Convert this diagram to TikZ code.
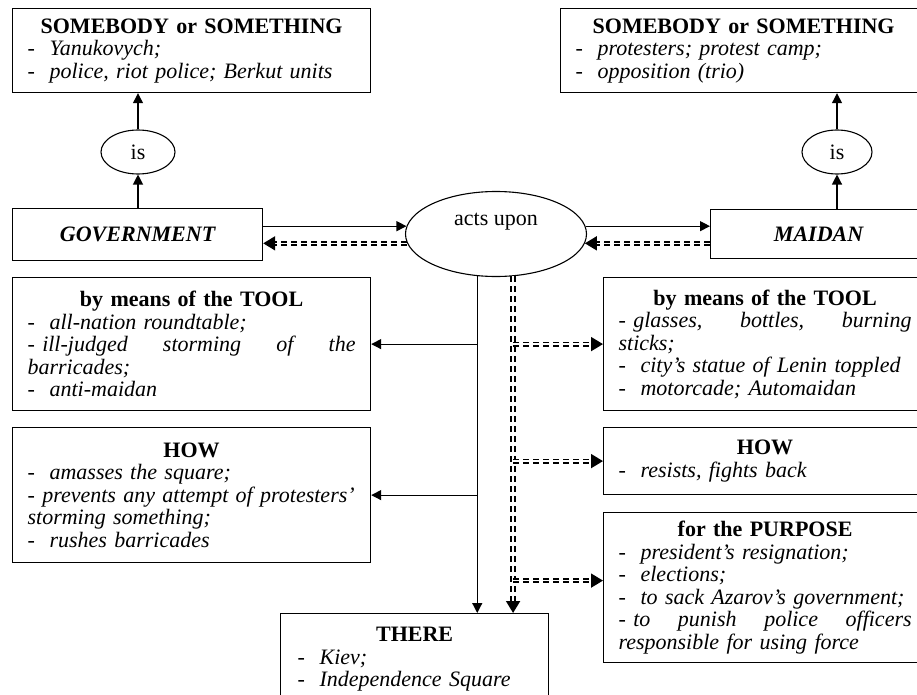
\documentclass[tikz,border=0pt]{standalone}
\usepackage{fontspec}
\setmainfont{Liberation Serif}
\usetikzlibrary{shapes.geometric,arrows.meta}
\newcommand{\hd}[1]{\makebox[\linewidth]{\bfseries #1}}

\begin{document}
\begin{tikzpicture}[x=1pt, y=-1pt, font=\fontsize{22}{22.5}\selectfont,
	box/.style={draw, line width=1.2pt, rectangle, anchor=north west, inner xsep=15pt, inner ysep=0pt, align=left},
	rel/.style={draw, line width=1.1pt, ellipse, inner sep=0pt},
	arr/.style={line width=1.2pt, -{Triangle[length=10pt,width=10pt]}},
	dbl/.style={line width=1.8pt, double distance=1.6pt, dash pattern=on 6pt off 4pt, -{Triangle[length=12pt,width=14pt]}}]
		\useasboundingbox (0,0) rectangle (917,695);
		\clip (0,0) rectangle (917,695);
		\node[box, text width=328pt, minimum height=84pt] (somL) at (12,8)
		{\hd{SOMEBODY or SOMETHING}\\ -~ \textit{Yanukovych;}\\ -~ \textit{police, riot police; Berkut units}};
		\node[box, text width=336pt, minimum height=84pt] (somR) at (560,8)
		{\hd{SOMEBODY or SOMETHING}\\ -~ \textit{protesters; protest camp;}\\ -~ \textit{opposition (trio)}};
		\node[rel, minimum width=74pt, minimum height=44pt] (isL) at (138,152) {is};
		\node[rel, minimum width=70pt, minimum height=44pt] (isR) at (837,152) {is};
		\node[box, text width=220pt, minimum height=52pt, align=center, font=\fontsize{22}{22.5}\selectfont\bfseries\itshape] (gov) at (12,208) {GOVERNMENT};
		\node[box, text width=186pt, minimum height=49pt, align=center, font=\fontsize{22}{22.5}\selectfont\bfseries\itshape] (maidan) at (710,209) {MAIDAN};
		\node[rel, minimum width=181pt, minimum height=85pt, text depth=29pt] (acts) at (496,234) {acts upon};
		\node[box, text width=328pt, minimum height=133pt] (toolL) at (12,277)
		{\hd{by means of the TOOL}\\ -~ \textit{all-nation roundtable;}\\ - \textit{ill-judged\hfill storming\hfill of\hfill the}\\ \textit{barricades;}\\ -~ \textit{anti-maidan}};
		\node[box, text width=328pt, minimum height=135pt] (howL) at (12,427)
		{\hd{HOW}\\ -~ \textit{amasses the square;}\\ \makebox[\linewidth][l]{- \textit{prevents any attempt of protesters’}}\\ \textit{storming something;}\\ -~ \textit{rushes barricades}};
		\node[box, text width=293pt, minimum height=133pt] (toolR) at (603,277)
		{\hd{by means of the TOOL}\\ - \textit{glasses,\hfill bottles,\hfill burning}\\ \textit{sticks;}\\ -~ \textit{city's statue of Lenin toppled}\\ -~ \textit{motorcade; Automaidan}};
		\node[box, text width=293pt, minimum height=67pt] (howR) at (603,427)
		{\hd{HOW}\\ -~ \textit{resists, fights back}};
		\node[box, text width=293pt, minimum height=150pt] (purp) at (603,512)
		{\hd{for the PURPOSE}\\ -~ \textit{president’s resignation;}\\ -~ \textit{elections;}\\ -~ \textit{to sack Azarov’s government;}\\ - \textit{to\hfill punish\hfill police\hfill officers}\\ \textit{responsible for using force}};
		\node[box, text width=234pt, inner xsep=17pt, minimum height=92pt] (there) at (280,613)
		{\hd{THERE}\\ -~ \textit{Kiev;}\\ -~ \textit{Independence Square}\\[8pt]};
		\coordinate (pin) at ([yshift=7pt]purp.west);
		
		\draw[arr] (isL.north) -- (isL.north |- somL.south);
		\draw[arr] (gov.north -| isL) -- (isL.south);
		\draw[arr] (isR.north) -- (isR.north |- somR.south);
		\draw[arr] (maidan.north -| isR) -- (isR.south);
		\draw[arr] (acts.175 -| gov.east) -- (acts.175);
		\draw[dbl] (acts.186) -- (acts.186 -| gov.east);
		\draw[arr] (acts.5) -- (acts.5 -| maidan.west);
		\draw[dbl] (acts.-6 -| maidan.west) -- (acts.-6);
		\draw[arr] (acts.246) -- (acts.246 |- there.north);
		\draw[arr] (acts.246 |- toolL.east) -- (toolL.east);
		\draw[arr] (acts.246 |- howL.east) -- (howL.east);
		\draw[dbl] (acts.292) -- (acts.292 |- there.north);
		\draw[dbl] (acts.292 |- toolR.west) -- (toolR.west);
		\draw[dbl] (acts.292 |- howR.west) -- (howR.west);
		\draw[dbl] (acts.292 |- pin) -- (pin);
\end{tikzpicture}
\end{document}
